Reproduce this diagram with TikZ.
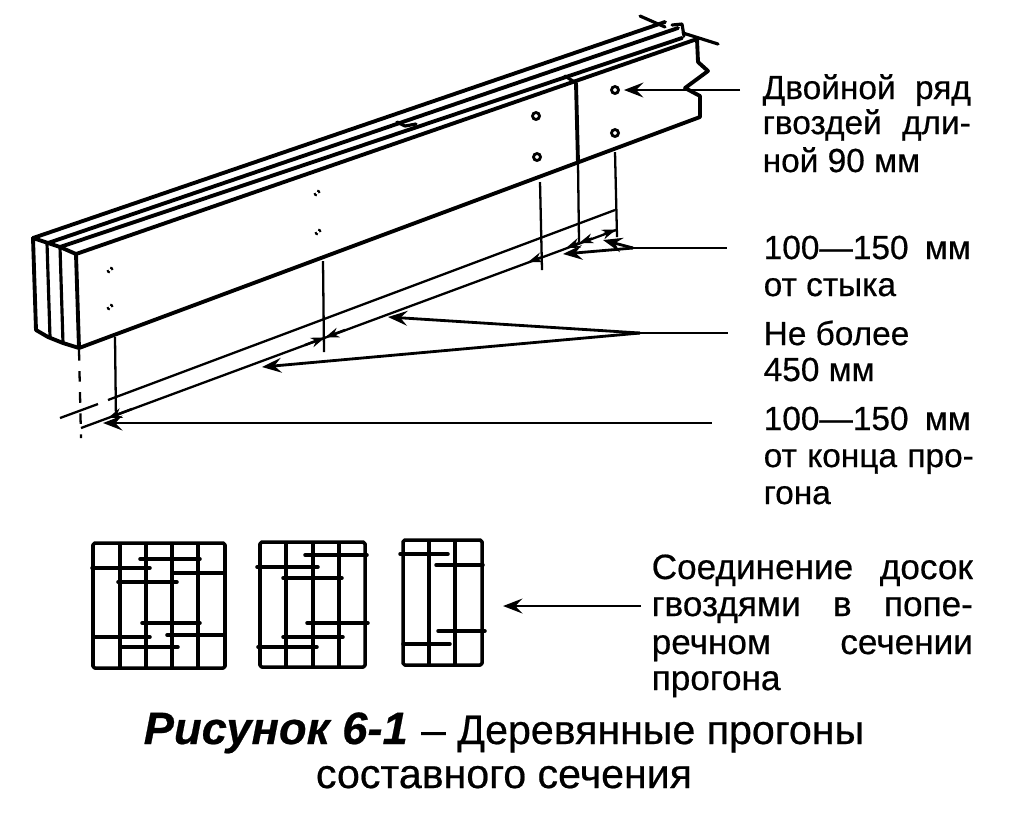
\documentclass[tikz,border=0pt]{standalone}
\usepackage{fontspec}
\setmainfont{Liberation Sans}
\usetikzlibrary{arrows.meta}
\newcommand{\spreadline}[2]{\hbox to #1{#2}}
\tikzset{
	beam/.style={line width=1.1pt,line cap=round,line join=round},
	board/.style={line width=0.9pt,line cap=round,line join=round},
	dimline/.style={line width=0.65pt},
	leader/.style={line width=0.8pt,-{Stealth[length=5.5pt,width=4.2pt,inset=2pt]}},
	tail/.style={line width=0.8pt},
	dimtip/.style={line width=0.7pt,-{Stealth[length=4pt,width=2.8pt]}},
	grid/.style={line width=1pt,line join=round,rounded corners=0.5pt},
	nailrow/.style={line width=1pt,line cap=round},
	hole/.style={circle,draw,line width=0.8pt,minimum size=0.07cm,inner sep=0pt},
	holefaint/.style={circle,draw,line width=0.6pt,dash pattern=on 1pt off 1.2pt,minimum size=0.05cm,inner sep=0pt},
	lbl/.style={anchor=west,inner sep=0pt,text height=0.24cm,text depth=0pt,font=\fontsize{9.5}{11}\selectfont\addfontfeature{FakeBold=0.5}},
	lblwide/.style={lbl,font=\fontsize{10}{11}\selectfont\addfontfeature{FakeBold=0.5}},
	capt/.style={inner sep=0pt,font=\fontsize{11.7}{14}\selectfont\addfontfeature{FakeBold=0.5}}
}
\begin{document}
\begin{tikzpicture}[x=0.01cm,y=-0.01cm]
	\useasboundingbox (0,0) rectangle (1016,817);
	\draw[beam] (33,238)--(665,22);
	\draw[beam] (48,243)--(678,28);
	\draw[beam] (60,247)--(682,38);
	\draw[beam] (76,254)--(697,39)--(698,62)--(708,71)--(685,88)--(700,96)--(700,117)--(79,348);
	\draw[beam] (33,238)--(48,243)--(60,247)--(76,254);
	\draw[beam] (33,238)--(36,330)--(48,337)--(63,343)--(79,348);
	\draw[board] (47,243)--(50,337);
	\draw[board] (60,247)--(63,343);
	\draw[beam] (76,254)--(79,348);
	\draw[board] (640,16)--(665,27);
	\draw[board] (672,25)--(682,24)--(684,36);
	\draw[board] (683,33)--(718,44);
	\draw[board] (397,122)--(405,126)--(416,124);
	\draw[board] (565,76)--(576,83);
	\draw[beam] (576,83)--(578,163);
	\node at (615,90) (hole1) [hole] {};
	\node at (615,133) (hole2) [hole] {};
	\node at (536,116) (hole3) [hole] {};
	\node at (537,157) (hole4) [hole] {};
	\node at (317,193) (hole5) [holefaint] {};
	\node at (318,232) (hole6) [holefaint] {};
	\node at (110,270) (hole7) [holefaint] {};
	\node at (110,307) (hole8) [holefaint] {};
	\draw[dimline] (578,163)--(579,242);
	\draw[dimline] (615,152)--(617,237);
	\draw[dimline] (540,182)--(542,270);
	\draw[dimline] (323,261)--(324,352);
	\draw[dimline] (115,337)--(116,420);
	\draw[dimline,dashed] (79,350)--(81,438);
	\draw[dimline] (60,418)--(98,404);
	\draw[dimline] (108,400)--(615,210);
	\draw[dimline] (81,428)--(616,230);
	\draw[dimtip] (132,409)--(108,418);
	\draw[dimtip] (345,330)--(325,337.5);
	\draw[dimtip] (305,345)--(325,337.5);
	\draw[dimtip] (541,257.5)--(528,262);
	\draw[dimtip] (579,243)--(566,248);
	\draw[dimtip] (592,238.5)--(579,243);
	\draw[dimtip] (604,234)--(616,229.5);
	\node at (762,87) (ryad1) [lbl] {\spreadline{2.08cm}{Двойной\hfill ряд}};
	\node at (762,122) (ryad2) [lbl] {\spreadline{2.08cm}{гвоздей\hfill дли-}};
	\node at (762,160) (ryad3) [lbl] {ной 90 мм};
	\node at (763,247) (styk1) [lbl] {\spreadline{2.07cm}{100—150\hfill мм}};
	\node at (763,284) (styk2) [lbl] {от стыка};
	\node at (763,333) (shag1) [lbl] {Не более};
	\node at (763,369) (shag2) [lbl] {450 мм};
	\node at (763,418) (konec1) [lbl] {\spreadline{2.07cm}{100—150\hfill мм}};
	\node at (763,455) (konec2) [lbl] {\spreadline{2.1cm}{от\hfill конца\hfill про-}};
	\node at (763,492) (konec3) [lbl] {гона};
	\node at (651,567) (sech1) [lblwide] {\spreadline{3.21cm}{Соединение\hfill досок}};
	\node at (651,604) (sech2) [lblwide] {\spreadline{3.21cm}{гвоздями\hfill в\hfill попе-}};
	\node at (651,642) (sech3) [lblwide] {\spreadline{3.21cm}{речном\hfill сечении}};
	\node at (651,678) (sech4) [lblwide] {прогона};
	\node at (143,744) (capt1) [capt,anchor=base west] {\spreadline{7.2cm}{{\fontsize{12.9}{14}\selectfont\bfseries\itshape Рисунок 6-1}\hfill\scalebox{0.6}[1]{—} Деревянные прогоны}};
	\node at (504,788) (capt2) [capt,anchor=base] {составного сечения};
	\coordinate (jstyk) at (633,248);
	\coordinate (jshag) at (640,333);
	\coordinate (tipa) at (388,317);
	\coordinate (tipb) at (262,367);
	\coordinate (tipc) at (103,423);
	\coordinate (tipd) at (603,240);
	\coordinate (tipe) at (563,254);
	\coordinate (tipf) at (503,606);
	\draw[leader,shorten <=0.22cm,shorten >=0.04cm] (ryad1.west |- hole1)--(hole1.east);
	\draw[tail,shorten <=0.36cm] (styk1.west |- jstyk)--(jstyk);
	\draw[leader] (jstyk)--(tipd);
	\draw[leader] (jstyk)--(tipe);
	\draw[tail,shorten <=0.35cm] (shag1.west)--(jshag);
	\draw[leader] (jshag)--(tipa);
	\draw[leader] (jshag)--(tipb);
	\draw[leader,shorten <=0.51cm] (konec1.west |- tipc)--(tipc);
	\draw[leader,shorten <=0.1cm] (sech2.west |- tipf)--(tipf);
	% first section
	\draw[grid] (93,543) rectangle (225,668);
	\draw[grid] (120,543)--(120,668);
	\draw[grid] (146,543)--(146,668);
	\draw[grid] (172,543)--(172,668);
	\draw[grid] (198,543)--(198,668);
	\draw[nailrow] (140,559)--(200,559);
	\draw[nailrow] (92,568)--(150,568);
	\draw[nailrow] (172,573)--(225,573);
	\draw[nailrow] (118,582)--(177,582);
	\draw[nailrow] (142,623)--(200,623);
	\draw[nailrow] (93,637)--(150,637);
	\draw[nailrow] (167,635)--(225,635);
	\draw[nailrow] (120,647)--(178,647);
	% second section
	\draw[grid] (260,542) rectangle (365,667);
	\draw[grid] (286,542)--(286,667);
	\draw[grid] (313,542)--(313,667);
	\draw[grid] (339,542)--(339,667);
	\draw[nailrow] (305,555)--(367,555);
	\draw[nailrow] (257,567)--(318,567);
	\draw[nailrow] (283,578)--(342,578);
	\draw[nailrow] (307,623)--(368,623);
	\draw[nailrow] (283,637)--(343,637);
	\draw[nailrow] (258,647)--(317,647);
	% third section
	\draw[grid] (403,540) rectangle (482,665);
	\draw[grid] (429,540)--(429,665);
	\draw[grid] (455,540)--(455,665);
	\draw[nailrow] (400,554)--(448,554);
	\draw[nailrow] (436,565)--(483,565);
	\draw[nailrow] (438,631)--(485,631);
	\draw[nailrow] (403,644)--(450,644);
\end{tikzpicture}
\end{document}
